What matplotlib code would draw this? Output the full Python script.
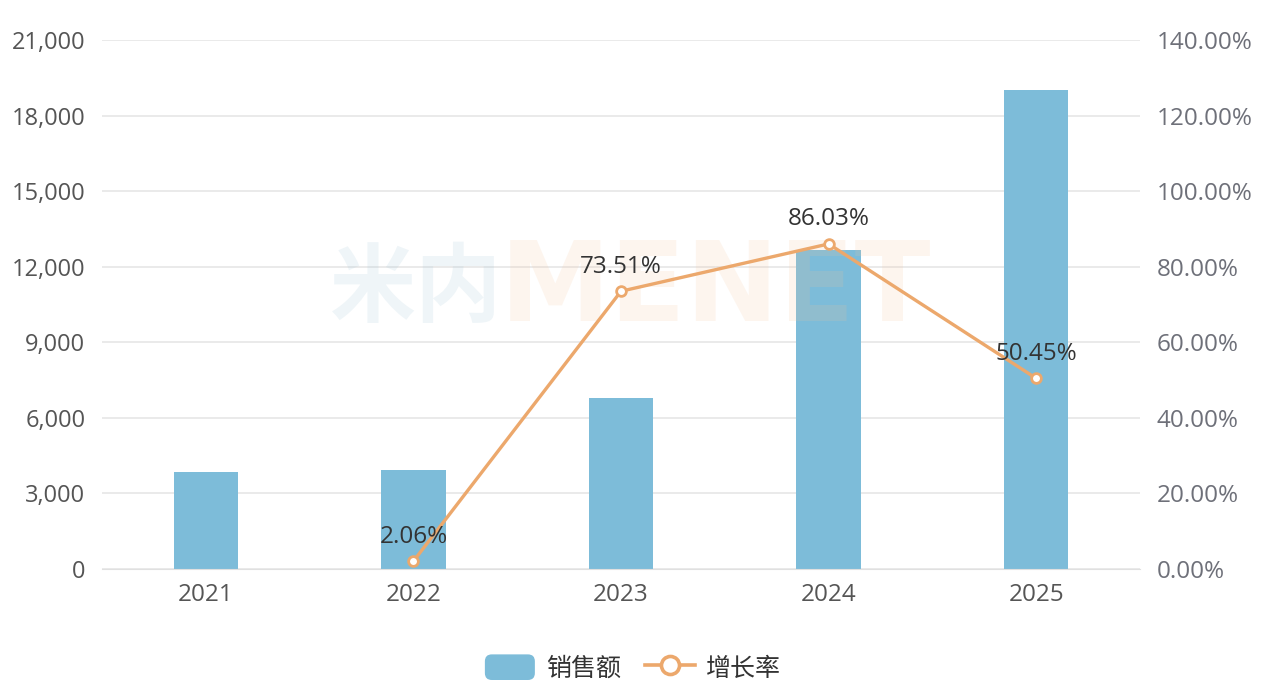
import matplotlib
matplotlib.use("Agg")
import matplotlib.pyplot as plt
from matplotlib.ticker import FuncFormatter, FixedLocator
from matplotlib.patches import Patch, FancyBboxPatch
from matplotlib.lines import Line2D
from matplotlib.legend_handler import HandlerPatch

plt.rcParams['font.family'] = ['Open Sans', 'Noto Sans CJK SC', 'DejaVu Sans']

years = ['2021', '2022', '2023', '2024', '2025']
sales = [3850, 3930, 6800, 12650, 19000]
growth = [None, 2.06, 73.51, 86.03, 50.45]
left_ticks = [0, 3000, 6000, 9000, 12000, 15000, 18000, 21000]
right_ticks = [0, 20, 40, 60, 80, 100, 120, 140]

bar_color = '#7DBCD9'
line_color = '#ECA86C'

fig = plt.figure(figsize=(12.66, 6.96), dpi=100)
ax = fig.add_axes([102/1266, 1 - 569/696, (1140-102)/1266, (569-40)/696])
ax2 = ax.twinx()

x = list(range(len(years)))
ax.bar(x, sales, width=0.31, color=bar_color, zorder=2)
ax.set_xlim(-0.5, len(years) - 0.5)
ax.set_ylim(0, 21000)
ax.yaxis.set_major_locator(FixedLocator(left_ticks))
ax.yaxis.set_major_formatter(FuncFormatter(lambda v, p: f"{int(v):,}"))
ax.grid(axis='y', color='#E6E6E6', linewidth=1.2, zorder=0)
ax.set_axisbelow(True)
ax.set_xticks(x)
ax.set_xticklabels(years)
for s in ['top', 'right', 'left']:
    ax.spines[s].set_visible(False)
    ax2.spines[s].set_visible(False)
ax.spines['bottom'].set_color('#E0E0E0')
ax2.spines['bottom'].set_visible(False)
ax.tick_params(axis='y', length=0, pad=12, labelsize=17, labelcolor='#555555')
ax.tick_params(axis='x', length=0, pad=10, labelsize=17.5, labelcolor='#555555')

# watermark (semi-transparent, above bars, below line and labels)
ax2.text(330/1266, 1 - 290/696, '米内', transform=fig.transFigure, fontsize=62,
         fontweight='bold', color='#9CC3D6', alpha=0.16, ha='left', va='center',
         family=['Noto Sans CJK SC'], zorder=1)
ax2.text(500/1266, 1 - 290/696, 'MENET', transform=fig.transFigure, fontsize=80,
         fontweight='bold', color='#F6C39A', alpha=0.16, ha='left', va='center',
         family=['DejaVu Sans'], zorder=1)

gx = [i for i, g in zip(x, growth) if g is not None]
gy = [g for g in growth if g is not None]
ax2.plot(gx, gy, color=line_color, linewidth=2.4, marker='o', markersize=7,
         markerfacecolor='white', markeredgecolor=line_color, markeredgewidth=2, zorder=5)
ax2.set_ylim(0, 140)
ax2.yaxis.set_major_locator(FixedLocator(right_ticks))
ax2.yaxis.set_major_formatter(FuncFormatter(lambda v, p: f"{v:.2f}%"))
ax2.tick_params(axis='y', length=0, pad=12, labelsize=17.5, labelcolor='#6E7079')

for i, g in zip(x, growth):
    if g is None:
        continue
    ax2.annotate(f"{g:.2f}%", (i, g), xytext=(0, 9), textcoords='offset points',
                 ha='center', va='bottom', fontsize=17.5, color='#333333', zorder=6)


class RoundPatchHandler(HandlerPatch):
    def create_artists(self, legend, orig_handle, xdescent, ydescent, width, height,
                       fontsize, trans):
        p = FancyBboxPatch((-xdescent, -ydescent), width, height,
                           boxstyle='round,pad=0,rounding_size=5',
                           facecolor=orig_handle.get_facecolor(), edgecolor='none',
                           transform=trans)
        return [p]


handles = [Patch(facecolor=bar_color, edgecolor=bar_color, label='销售额'),
           Line2D([0], [0], color=line_color, linewidth=2.6, marker='o', markersize=13,
                  markerfacecolor='white', markeredgecolor=line_color, markeredgewidth=2.6,
                  label='增长率')]
fig.legend(handles=handles, loc='center', bbox_to_anchor=(0.5, 1 - 668/696), ncol=2,
           frameon=False, fontsize=18, handlelength=2.0, handleheight=1.2,
           columnspacing=0.95, handletextpad=0.45, labelcolor='#333333',
           handler_map={Patch: RoundPatchHandler()})

fig.savefig('out.png', dpi=100)
